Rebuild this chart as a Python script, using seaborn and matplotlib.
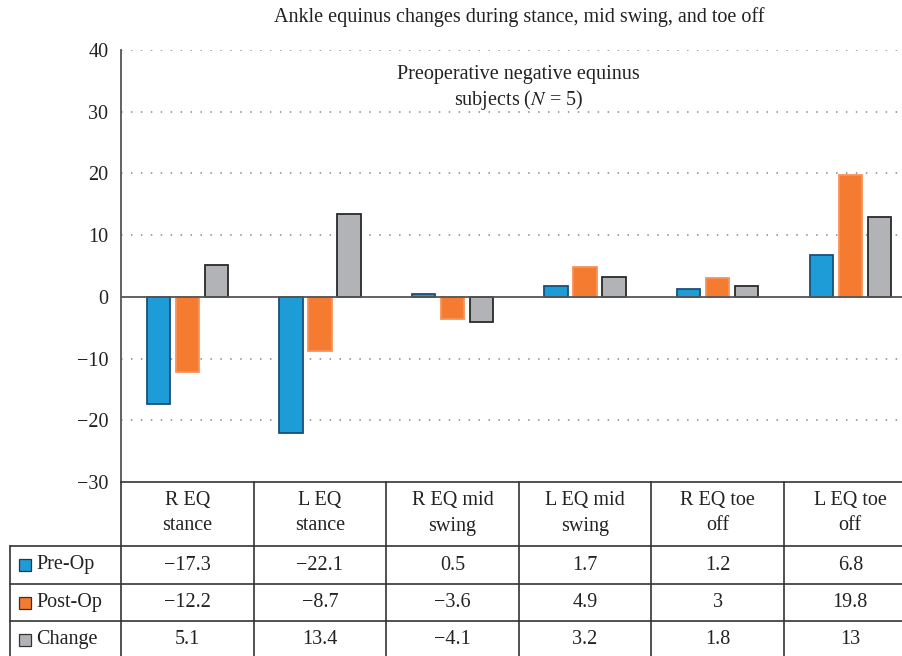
import pandas as pd
import numpy as np
import matplotlib
matplotlib.use("Agg")
import matplotlib.pyplot as plt
from matplotlib.lines import Line2D
from matplotlib.patches import Rectangle
import seaborn as sns

# --- data ---
categories = ["R EQ\nstance", "L EQ\nstance", "R EQ mid\nswing", "L EQ mid\nswing", "R EQ toe\noff", "L EQ toe\noff"]
series = ["Pre-Op", "Post-Op", "Change"]
pre_op = [-17.3, -22.1, 0.5, 1.7, 1.2, 6.8]
post_op = [-12.2, -8.7, -3.6, 4.9, 3.0, 19.8]
change = [5.1, 13.4, -4.1, 3.2, 1.8, 13.0]
table_text = [
    ["\u221217.3", "\u221222.1", "0.5", "1.7", "1.2", "6.8"],
    ["\u221212.2", "\u22128.7", "\u22123.6", "4.9", "3", "19.8"],
    ["5.1", "13.4", "\u22124.1", "3.2", "1.8", "13"],
]

colors = {"Pre-Op": "#1e9cd8", "Post-Op": "#f47b30", "Change": "#b2b3b6"}
edges = {"Pre-Op": "#1b4f78", "Post-Op": "#f8935a", "Change": "#2a2a2a"}

df = pd.DataFrame({
    "cat": categories * 3,
    "series": sum([[s] * len(categories) for s in series], []),
    "val": pre_op + post_op + change,
})

sns.set_style("white")
plt.rcParams["font.family"] = ["Liberation Serif", "DejaVu Serif"]
plt.rcParams["mathtext.fontset"] = "stix"
FS = 14.5

W, H = 903, 656
fig = plt.figure(figsize=(W / 100, H / 100), dpi=100)
ax_l, ax_r, ax_t, ax_b = 121, 916.6, 50, 482
ax = fig.add_axes([ax_l / W, 1 - ax_b / H, (ax_r - ax_l) / W, (ax_b - ax_t) / H])

sns.barplot(data=df, x="cat", y="val", hue="series", hue_order=series,
            palette=colors, saturation=1, width=0.656, gap=0.19, legend=False,
            ax=ax, linewidth=1.3, zorder=3)
for cont, s in zip(ax.containers, series):
    for p in cont:
        p.set_edgecolor(edges[s])
        p.set_linewidth(1.3)

ax.set_ylim(-30, 40)
ax.set_xlim(-0.5, len(categories) - 0.5)
ax.set_yticks(range(-30, 41, 10))
ax.set_yticklabels([str(v).replace("-", "\u2212") for v in range(-30, 41, 10)], fontsize=FS, color="#222")
ax.set_xticks([])
ax.set_xlabel("")
ax.set_ylabel("")
ax.tick_params(axis="y", length=0, pad=9)
for v in range(-20, 41, 10):
    if v != 0:
        ax.axhline(v, color="#888", lw=1.1, ls=(0, (1, 5.5)), zorder=1)
ax.axhline(0, color="#555", lw=1.3, zorder=4)
for sp in ["top", "right", "bottom"]:
    ax.spines[sp].set_visible(False)
ax.spines["left"].set_color("#555")
ax.spines["left"].set_linewidth(1.3)

ax.set_title("Ankle equinus changes during stance, mid swing, and toe off",
             fontsize=FS, color="#222", pad=20)
ax.text(0.5, 0.965, "Preoperative negative equinus\nsubjects ($\\mathit{N}$ = 5)",
        transform=ax.transAxes, ha="center", va="top", fontsize=FS,
        color="#222", linespacing=1.25)

# --- table under the axes (pixel coords helper) ---
def fx(x):
    return x / W

def fy(y):
    return 1 - y / H

line_kw = dict(color="#333", lw=1.2, transform=fig.transFigure, clip_on=False)
col_w = (ax_r - ax_l) / len(categories)
row_y = [482, 546, 584, 621, 680]
# horizontal lines
fig.add_artist(Line2D([fx(ax_l), fx(ax_r)], [fy(482), fy(482)], **line_kw))
for y in row_y[1:4]:
    fig.add_artist(Line2D([fx(10), fx(ax_r)], [fy(y), fy(y)], **line_kw))
# vertical lines
for i in range(len(categories) + 1):
    x = ax_l + i * col_w
    fig.add_artist(Line2D([fx(x), fx(x)], [fy(482), fy(680)], **line_kw))
fig.add_artist(Line2D([fx(10), fx(10)], [fy(546), fy(680)], **line_kw))

for i, c in enumerate(categories):
    xc = ax_l + (i + 0.5) * col_w
    fig.text(fx(xc), fy(513), c, ha="center", va="center", fontsize=FS,
             color="#222", linespacing=1.5)
    for r in range(3):
        yc = (row_y[r + 1] + min(row_y[r + 2], 658)) / 2
        fig.text(fx(xc), fy(yc), table_text[r][i], ha="center", va="center",
                 fontsize=FS, color="#222")

for r, s in enumerate(series):
    yc = (row_y[r + 1] + min(row_y[r + 2], 658)) / 2
    fig.add_artist(Rectangle((fx(19), fy(yc + 6)), fx(12), 12 / H,
                             facecolor=colors[s], edgecolor="#333", lw=0.9,
                             transform=fig.transFigure))
    fig.text(fx(36), fy(yc), s, ha="left", va="center", fontsize=FS, color="#222")

fig.savefig("out.png", dpi=100)
